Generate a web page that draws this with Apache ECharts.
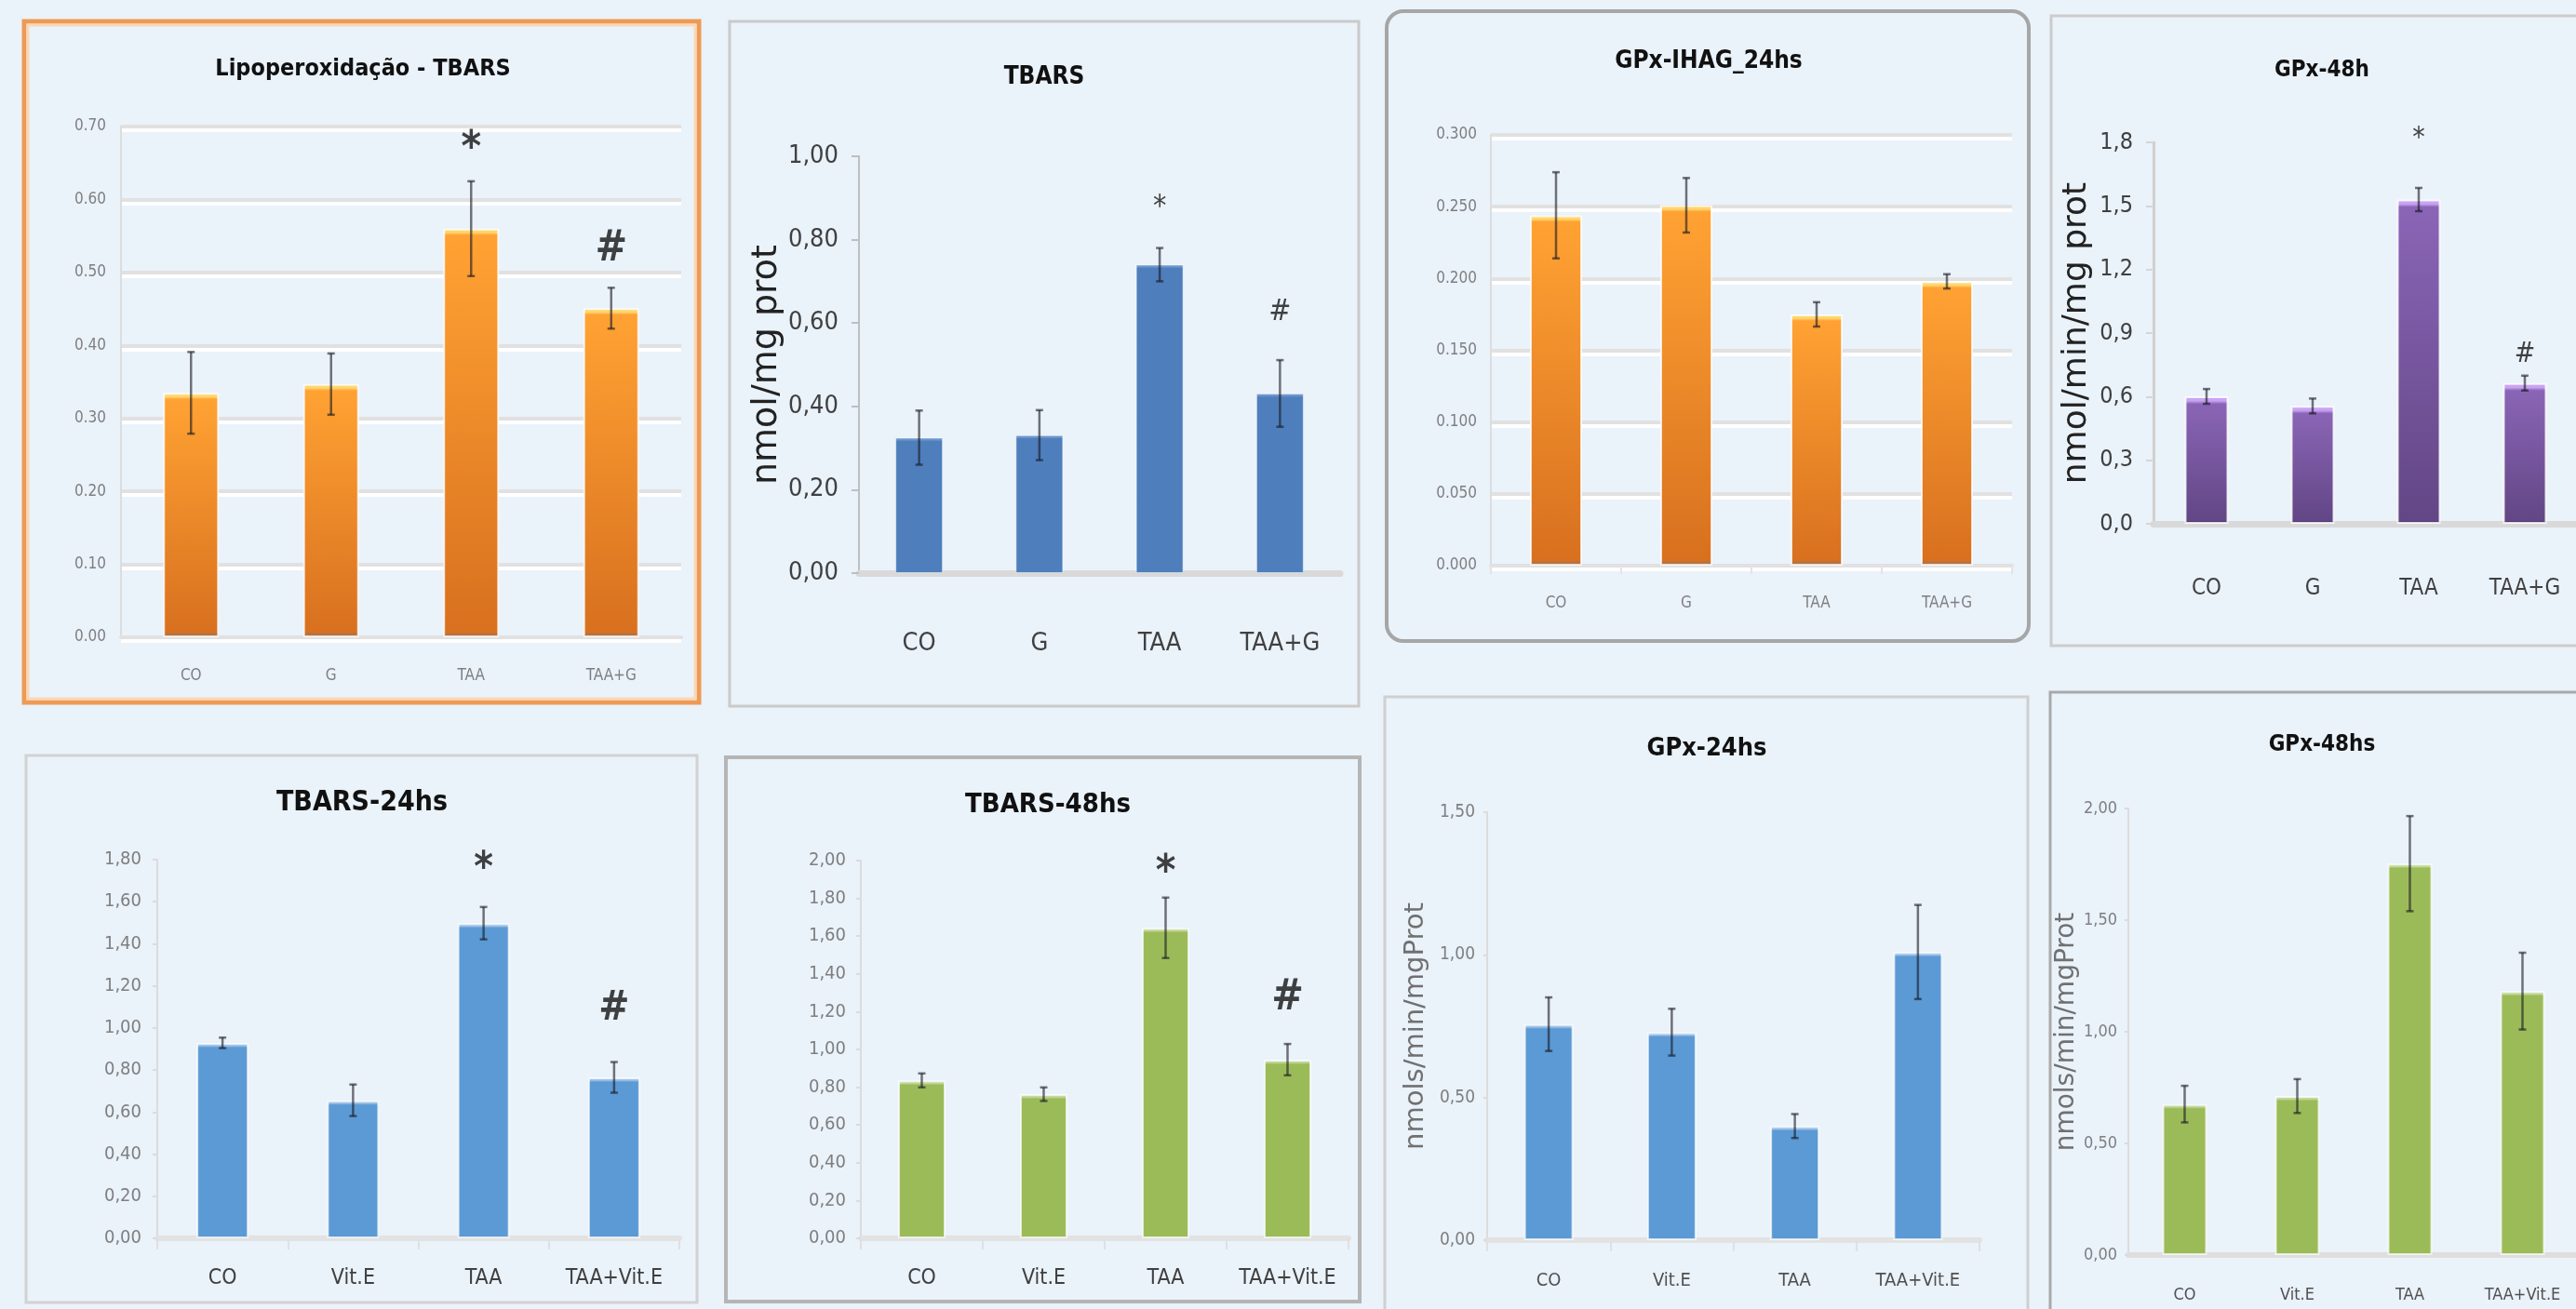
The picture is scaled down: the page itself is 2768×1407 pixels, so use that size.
<!DOCTYPE html>
<html><head><meta charset="utf-8">
<script src="https://cdn.jsdelivr.net/npm/echarts@6/dist/echarts.min.js"></script>
<style>html,body{margin:0;padding:0;background:#EAF2FA}#c{width:2768px;height:1407px}</style>
</head><body><div id="c"></div>
<script>
// ---------------- DATA ----------------
const catsG = ['CO', 'G', 'TAA', 'TAA+G'];
const catsV = ['CO', 'Vit.E', 'TAA', 'TAA+Vit.E'];

const lipoMean = [0.335, 0.347, 0.560, 0.451];
const lipoErr = [0.056, 0.042, 0.065, 0.028];
const lipoMark = ['', '', '*', '#'];
const lipoMarkY = [null, null, 0.678, 0.532];
const lipoTicks = ['0.00', '0.10', '0.20', '0.30', '0.40', '0.50', '0.60', '0.70'];

const tbarsMean = [0.325, 0.331, 0.740, 0.431];
const tbarsErr = [0.065, 0.060, 0.040, 0.080];
const tbarsMark = ['', '', '*', '#'];
const tbarsMarkY = [null, null, 0.888, 0.625];
const tbarsTicks = ['0,00', '0,20', '0,40', '0,60', '0,80', '1,00'];

const ihagMean = [0.244, 0.251, 0.175, 0.198];
const ihagErr = [0.030, 0.019, 0.0085, 0.005];
const ihagTicks = ['0.000', '0.050', '0.100', '0.150', '0.200', '0.250', '0.300'];

const gpx48hMean = [0.601, 0.556, 1.530, 0.664];
const gpx48hErr = [0.035, 0.035, 0.055, 0.035];
const gpx48hMark = ['', '', '*', '#'];
const gpx48hMarkY = [null, null, 1.84, 0.80];
const gpx48hTicks = ['0,0', '0,3', '0,6', '0,9', '1,2', '1,5', '1,8'];

const tb24Mean = [0.929, 0.656, 1.498, 0.765];
const tb24Err = [0.025, 0.075, 0.077, 0.073];
const tb24Mark = ['', '', '*', '#'];
const tb24MarkY = [null, null, 1.785, 1.09];
const tb24Ticks = ['0,00', '0,20', '0,40', '0,60', '0,80', '1,00', '1,20', '1,40', '1,60', '1,80'];

const tb48Mean = [0.836, 0.763, 1.644, 0.946];
const tb48Err = [0.037, 0.036, 0.160, 0.083];
const tb48Mark = ['', '', '*', '#'];
const tb48MarkY = [null, null, 1.97, 1.27];
const tb48Ticks = ['0,00', '0,20', '0,40', '0,60', '0,80', '1,00', '1,20', '1,40', '1,60', '1,80', '2,00'];

const gpx24Mean = [0.757, 0.729, 0.400, 1.010];
const gpx24Err = [0.094, 0.082, 0.042, 0.165];
const gpx24Ticks = ['0,00', '0,50', '1,00', '1,50'];

const gpx48Mean = [0.676, 0.712, 1.753, 1.182];
const gpx48Err = [0.082, 0.076, 0.213, 0.172];
const gpx48Ticks = ['0,00', '0,50', '1,00', '1,50', '2,00'];

// ---------------- STYLES ----------------
const NARROW = "'Liberation Sans Narrow','Arial Narrow','DejaVu Sans Condensed',sans-serif";
const WIDE = "'DejaVu Sans',sans-serif";

const SCH = {
  orange: {capC: '#FFD66E', top: '#FFA233', bottom: '#D8701F', cap: 7, bot: 5, botC: '#B9723F', border: 'rgba(255,255,255,0.75)', bw: 2},
  purple: {capC: '#C9A3F3', top: '#8A65B6', bottom: '#624685', cap: 8, bot: 3, botC: '#553A78', border: 'rgba(255,255,255,0.8)', bw: 2},
  blueD:  {capC: '#6F97CC', top: '#4E7FBC', bottom: '#4E7FBC', cap: 4, bot: 0, border: 'rgba(255,255,255,0.5)', bw: 1},
  blueL:  {capC: '#A5C5E8', top: '#5B9AD5', bottom: '#5B9AD5', cap: 5, bot: 0, border: 'rgba(255,255,255,0.7)', bw: 2},
  green:  {capC: '#C5D9A0', top: '#9BBB59', bottom: '#9BBB59', cap: 5, bot: 0, border: 'rgba(255,255,255,0.7)', bw: 2}
};

const panels = [
  {title: 'Lipoperoxidação - TBARS', tfs: 25, tx: 390, ty: 74,
   cats: catsG, mean: lipoMean, err: lipoErr, mark: lipoMark, markY: lipoMarkY, mfs: 46, mbold: true,
   ticks: lipoTicks, max: 0.7, interval: 0.1,
   grid: {left: 130, top: 136, width: 602, height: 549}, barW: 60, sch: 'orange',
   yfs: 17, ycol: '#7F7F7F', ymargin: 16, xfs: 17, xcol: '#7F7F7F', xmargin: 33,
   split: true, yLine: {color: '#DDDDDD', width: 2}, yTick: false,
   xLine: {color: '#E1E1E1', width: 4}, xTick: false,
   frame: {x: 26, y: 23, w: 725, h: 732, color: '#EE9A55', lw: 5, inner: '#FBD7B5'}},
  {title: 'TBARS', tfs: 26, tx: 1122, ty: 83,
   cats: catsG, mean: tbarsMean, err: tbarsErr, mark: tbarsMark, markY: tbarsMarkY, mfs: 32, mbold: false,
   ticks: tbarsTicks, max: 1.0, interval: 0.2,
   grid: {left: 923, top: 168, width: 517, height: 448}, barW: 51, sch: 'blueD',
   yfs: 27, ycol: '#404040', ymargin: 22, xfs: 27, xcol: '#404040', xmargin: 62,
   split: false, yLine: {color: '#BFBFBF', width: 2}, yTick: {len: 8, color: '#BFBFBF'},
   xLine: {color: '#D9D9D9', width: 7}, xTick: false,
   yName: 'nmol/mg prot', yNameFs: 38, yNameGap: 78, yNameCol: '#222222',
   frame: {x: 784, y: 23, w: 676, h: 736, color: '#CACACA', lw: 3}},
  {title: 'GPx-IHAG_24hs', tfs: 26, tx: 1836, ty: 66,
   cats: catsG, mean: ihagMean, err: ihagErr, mark: null,
   ticks: ihagTicks, max: 0.3, interval: 0.05,
   grid: {left: 1602, top: 145, width: 560, height: 463}, barW: 56, sch: 'orange',
   yfs: 17, ycol: '#7F7F7F', ymargin: 15, xfs: 17, xcol: '#7F7F7F', xmargin: 32,
   split: true, yLine: {color: '#DDDDDD', width: 2}, yTick: false,
   xLine: {color: '#E1E1E1', width: 4}, xTick: {len: 9, color: '#E4E4E4'},
   frame: {x: 1490, y: 12, w: 690, h: 677, color: '#A6A6A6', lw: 4, r: 18}},
  {title: 'GPx-48h', tfs: 24, tx: 2495, ty: 76,
   cats: catsG, mean: gpx48hMean, err: gpx48hErr, mark: gpx48hMark, markY: gpx48hMarkY, mfs: 30, mbold: false,
   ticks: gpx48hTicks, max: 1.8, interval: 0.3,
   grid: {left: 2314, top: 153, width: 456, height: 410}, barW: 47, sch: 'purple',
   yfs: 25, ycol: '#404040', ymargin: 22, xfs: 24, xcol: '#404040', xmargin: 58,
   split: false, yLine: {color: '#D0D0D0', width: 3}, yTick: {len: 8, color: '#D6D6D6'},
   xLine: {color: '#D9D9D9', width: 7}, xTick: false,
   yName: 'nmol/min/mg prot', yNameFs: 36, yNameGap: 64, yNameCol: '#222222',
   frame: {x: 2204, y: 17, w: 700, h: 677, color: '#CCCCCC', lw: 3}},
  {title: 'TBARS-24hs', tfs: 30, tx: 389, ty: 863,
   cats: catsV, mean: tb24Mean, err: tb24Err, mark: tb24Mark, markY: tb24MarkY, mfs: 44, mbold: true,
   ticks: tb24Ticks, max: 1.8, interval: 0.2,
   grid: {left: 169, top: 924, width: 561, height: 407}, barW: 56, sch: 'blueL',
   yfs: 20, ycol: '#7F7F7F', ymargin: 17, xfs: 23, xcol: '#404040', xmargin: 32,
   split: false, yLine: {color: '#DCDCDC', width: 2}, yTick: {len: 5, color: '#DCDCDC'},
   xLine: {color: '#E2E2E2', width: 6}, xTick: {len: 12, color: '#E0E0E0'},
   frame: {x: 28, y: 812, w: 721, h: 588, color: '#D2D2D2', lw: 3}},
  {title: 'TBARS-48hs', tfs: 29, tx: 1126, ty: 865,
   cats: catsV, mean: tb48Mean, err: tb48Err, mark: tb48Mark, markY: tb48MarkY, mfs: 46, mbold: true,
   ticks: tb48Ticks, max: 2.0, interval: 0.2,
   grid: {left: 925, top: 925, width: 524, height: 406}, barW: 51, sch: 'green',
   yfs: 20, ycol: '#7F7F7F', ymargin: 16, xfs: 23, xcol: '#404040', xmargin: 32,
   split: false, yLine: {color: '#DCDCDC', width: 2}, yTick: {len: 5, color: '#DCDCDC'},
   xLine: {color: '#E2E2E2', width: 6}, xTick: {len: 12, color: '#E0E0E0'},
   frame: {x: 780, y: 814, w: 681, h: 585, color: '#B5B5B5', lw: 4}},
  {title: 'GPx-24hs', tfs: 27, tx: 1834, ty: 805,
   cats: catsV, mean: gpx24Mean, err: gpx24Err, mark: null,
   ticks: gpx24Ticks, max: 1.5, interval: 0.5,
   grid: {left: 1598, top: 873, width: 529, height: 460}, barW: 53, sch: 'blueL',
   yfs: 19, ycol: '#7F7F7F', ymargin: 13, xfs: 20, xcol: '#505050', xmargin: 34,
   split: false, yLine: {color: '#DCDCDC', width: 2}, yTick: {len: 4, color: '#DCDCDC'},
   xLine: {color: '#E2E2E2', width: 6}, xTick: {len: 12, color: '#E0E0E0'},
   yName: 'nmols/min/mgProt', yNameFs: 29, yNameGap: 62, yNameCol: '#707070',
   frame: {x: 1488, y: 749, w: 691, h: 700, color: '#D0D0D0', lw: 3}},
  {title: 'GPx-48hs', tfs: 24, tx: 2495, ty: 801,
   cats: catsV, mean: gpx48Mean, err: gpx48Err, mark: null,
   ticks: gpx48Ticks, max: 2.0, interval: 0.5,
   grid: {left: 2287, top: 869, width: 484, height: 480}, barW: 48, sch: 'green',
   yfs: 18, ycol: '#7F7F7F', ymargin: 12, xfs: 18, xcol: '#505050', xmargin: 34,
   split: false, yLine: {color: '#DCDCDC', width: 2}, yTick: {len: 4, color: '#DCDCDC'},
   xLine: {color: '#DEDEDE', width: 6}, xTick: false,
   yName: 'nmols/min/mgProt', yNameFs: 28, yNameGap: 46, yNameCol: '#707070',
   frame: {x: 2203, y: 744, w: 700, h: 700, color: '#A9A9A9', lw: 3}}
];

// ---------------- BUILD ----------------
function barItems(mean, max, gridH, s) {
  return mean.map(v => {
    const h = gridH * v / max;
    const c = Math.min(0.3, s.cap / h);
    const stops = [
      {offset: 0, color: s.capC},
      {offset: c * 0.6, color: s.capC},
      {offset: c, color: s.top}
    ];
    if (s.bot) {
      const b = 1 - Math.min(0.1, s.bot / h);
      stops.push({offset: b, color: s.bottom}, {offset: Math.min(1, b + 0.002), color: s.botC}, {offset: 1, color: s.botC});
    } else {
      stops.push({offset: 1, color: s.bottom});
    }
    return {value: v, itemStyle: {color: {type: 'linear', x: 0, y: 0, x2: 0, y2: 1, colorStops: stops}, borderColor: s.border, borderWidth: s.bw}};
  });
}

const grids = [], xAxes = [], yAxes = [], series = [], graphics = [];

panels.forEach((p, k) => {
  const f = p.frame;
  graphics.push({type: 'rect', z: 0, shape: {x: f.x, y: f.y, width: f.w, height: f.h, r: f.r || 0},
    style: {fill: 'none', stroke: f.color, lineWidth: f.lw}});
  if (f.inner) {
    graphics.push({type: 'rect', z: 0, shape: {x: f.x + 4, y: f.y + 4, width: f.w - 8, height: f.h - 8},
      style: {fill: 'none', stroke: f.inner, lineWidth: 3}});
  }
  graphics.push({type: 'text', z: 10, x: p.tx, y: p.ty,
    style: {text: p.title, align: 'center', verticalAlign: 'middle', fontSize: p.tfs, fontWeight: 'bold', fontFamily: NARROW, fill: '#111111'}});

  grids.push(Object.assign({containLabel: false, outerBoundsMode: 'none'}, p.grid));

  xAxes.push({type: 'category', gridIndex: k, data: p.cats,
    axisLine: {show: true, lineStyle: {color: p.xLine.color, width: p.xLine.width}},
    axisTick: p.xTick ? {show: true, length: p.xTick.len, lineStyle: {color: p.xTick.color, width: 2}} : {show: false},
    axisLabel: {interval: 0, fontSize: p.xfs, color: p.xcol, fontFamily: NARROW, margin: p.xmargin},
    splitLine: {show: false}});

  const ya = {type: 'value', gridIndex: k, min: 0, max: p.max, interval: p.interval,
    axisLine: {show: true, lineStyle: {color: p.yLine.color, width: p.yLine.width}},
    axisTick: p.yTick ? {show: true, length: p.yTick.len, lineStyle: {color: p.yTick.color, width: 2}} : {show: false},
    axisLabel: {fontSize: p.yfs, color: p.ycol, fontFamily: NARROW, margin: p.ymargin,
      formatter: (v) => p.ticks[Math.round(v / p.interval)]},
    splitLine: p.split ? {show: true, lineStyle: {color: '#E1E1E1', width: 4, shadowColor: '#FFFFFF', shadowOffsetY: 4, shadowBlur: 0}} : {show: false}};
  if (p.yName) {
    Object.assign(ya, {name: p.yName, nameLocation: 'middle', nameRotate: 90, nameGap: p.yNameGap,
      nameTextStyle: {fontSize: p.yNameFs, fontFamily: WIDE, color: p.yNameCol}});
  }
  yAxes.push(ya);

  series.push({type: 'bar', xAxisIndex: k, yAxisIndex: k, barWidth: p.barW, z: 2,
    data: barItems(p.mean, p.max, p.grid.height, SCH[p.sch])});

  series.push({type: 'custom', xAxisIndex: k, yAxisIndex: k, z: 5, clip: false,
    data: p.mean.map((m, i) => [i, m, p.err[i]]),
    encode: {x: 0, y: 1},
    renderItem: (params, api) => {
      const i = api.value(0), m = api.value(1), e = api.value(2);
      const hi = api.coord([i, m + e]), lo = api.coord([i, m - e]);
      const w = 4;
      const st = {stroke: 'rgba(25,25,35,0.6)', lineWidth: 2.5};
      return {type: 'group', children: [
        {type: 'line', shape: {x1: hi[0], y1: hi[1], x2: lo[0], y2: lo[1]}, style: st},
        {type: 'line', shape: {x1: hi[0] - w, y1: hi[1], x2: hi[0] + w, y2: hi[1]}, style: st},
        {type: 'line', shape: {x1: lo[0] - w, y1: lo[1], x2: lo[0] + w, y2: lo[1]}, style: st}
      ]};
    }});

  if (p.mark) {
    const pts = [];
    p.mark.forEach((m, i) => {
      if (m) pts.push({value: [i, p.markY[i]],
        label: {formatter: m, offset: [0, m === '*' ? Math.round(p.mfs * 0.17) : 0]}});
    });
    series.push({type: 'scatter', xAxisIndex: k, yAxisIndex: k, z: 6, clip: false, silent: true,
      symbolSize: 1, itemStyle: {color: 'rgba(0,0,0,0)'},
      label: {show: true, position: 'inside', fontSize: p.mfs, fontWeight: p.mbold ? 'bold' : 'normal',
        fontFamily: NARROW, color: '#111111'},
      data: pts});
  }
});

const chart = echarts.init(document.getElementById('c'), null, {renderer: 'canvas'});
chart.setOption({
  backgroundColor: '#EAF2FA',
  animation: false,
  grid: grids, xAxis: xAxes, yAxis: yAxes, series: series,
  graphic: graphics
});
</script></body></html>
